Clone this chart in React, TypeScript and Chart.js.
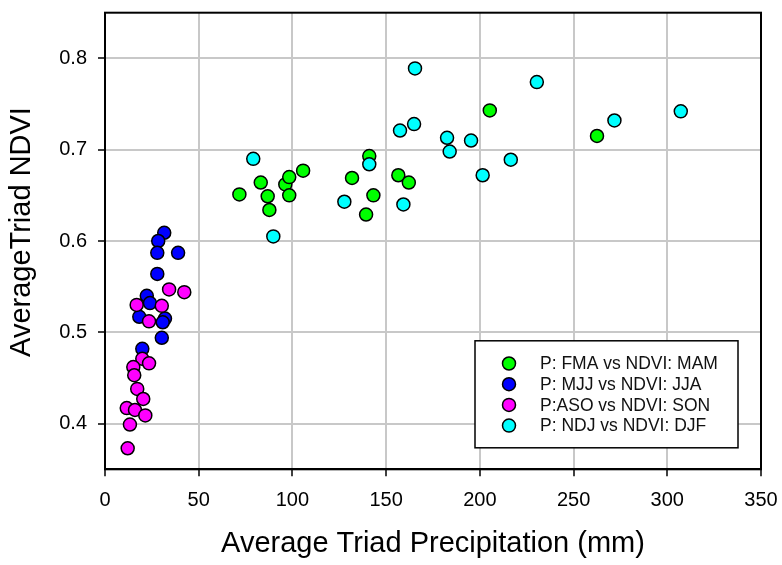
import React, { useEffect, useRef } from "react";
import { Chart, registerables } from "chart.js";

Chart.register(...registerables);

const seriesLabels = [
  "P: FMA vs NDVI: MAM",
  "P: MJJ vs NDVI: JJA",
  "P:ASO vs NDVI: SON",
  "P: NDJ vs NDVI: DJF",
];
const seriesColors = ["#00ff00", "#0000ff", "#ff00ff", "#00ffff"];

// P: FMA vs NDVI: MAM
const fmaX = [71.7, 83.1, 86.8, 87.7, 96.2, 98.3, 98.3, 105.7, 141.0, 131.8, 143.2, 139.3, 156.5, 162.1, 205.3, 262.5];
const fmaY = [0.651, 0.664, 0.649, 0.634, 0.662, 0.670, 0.650, 0.677, 0.693, 0.669, 0.650, 0.629, 0.672, 0.664, 0.743, 0.715];

// P: MJJ vs NDVI: JJA
const mjjX = [31.6, 28.4, 27.9, 39.0, 27.9, 22.3, 24.0, 18.3, 32.0, 30.8, 30.3, 19.9];
const mjjY = [0.609, 0.600, 0.587, 0.587, 0.564, 0.540, 0.532, 0.517, 0.515, 0.511, 0.494, 0.482];

// P:ASO vs NDVI: SON
const asoX = [34.2, 42.3, 16.9, 30.3, 23.5, 19.9, 23.5, 15.1, 15.6, 17.2, 20.4, 11.6, 16.0, 21.5, 13.3, 12.1];
const asoY = [0.547, 0.544, 0.530, 0.529, 0.512, 0.471, 0.466, 0.462, 0.453, 0.438, 0.427, 0.417, 0.415, 0.409, 0.399, 0.373];

// P: NDJ vs NDVI: DJF
const ndjX = [79.1, 89.8, 141.0, 127.7, 159.2, 157.4, 165.4, 164.9, 182.5, 183.9, 195.3, 201.5, 216.5, 230.4, 271.8, 307.2];
const ndjY = [0.690, 0.605, 0.684, 0.643, 0.640, 0.721, 0.789, 0.728, 0.713, 0.698, 0.710, 0.672, 0.689, 0.774, 0.732, 0.742];

const xMin = 0;
const xMax = 350;
const xTickValues = [0, 50, 100, 150, 200, 250, 300, 350];
const yMin = 0.35;
const yMax = 0.85;
const yTickValues = [0.4, 0.5, 0.6, 0.7, 0.8];

const xTitle = "Average Triad Precipitation (mm)";
const yTitle = "AverageTriad NDVI";

const FONT = "'Liberation Sans', Arial, sans-serif";

function toPoints(xs: number[], ys: number[]) {
  return xs.map((x, i) => ({ x, y: ys[i] }));
}

const framePlugin = {
  id: "frame",
  beforeDatasetsDraw(chart: any) {
    const { ctx, chartArea } = chart;
    ctx.save();
    ctx.strokeStyle = "#000";
    ctx.lineWidth = 2;
    ctx.strokeRect(chartArea.left, chartArea.top, chartArea.right - chartArea.left, chartArea.bottom - chartArea.top);
    ctx.restore();
  },
};

const yTitlePlugin = {
  id: "yTitle",
  afterDraw(chart: any) {
    const { ctx, chartArea } = chart;
    ctx.save();
    ctx.translate(22, (chartArea.top + chartArea.bottom) / 2 - 9);
    ctx.rotate(-Math.PI / 2);
    ctx.font = `29px ${FONT}`;
    ctx.fillStyle = "#000";
    ctx.textAlign = "center";
    ctx.textBaseline = "middle";
    ctx.fillText(yTitle, 0, 0);
    ctx.restore();
  },
};

const legendPlugin = {
  id: "boxLegend",
  afterDatasetsDraw(chart: any) {
    const { ctx, chartArea } = chart;
    const right = chartArea.right - 23;
    const bottom = chartArea.bottom - 21.5;
    const w = 263;
    const h = 107;
    const left = right - w;
    const top = bottom - h;
    ctx.save();
    ctx.fillStyle = "#fff";
    ctx.fillRect(left, top, w, h);
    ctx.strokeStyle = "#000";
    ctx.lineWidth = 1.5;
    ctx.strokeRect(left, top, w, h);
    ctx.font = `17.5px ${FONT}`;
    ctx.textBaseline = "middle";
    ctx.textAlign = "left";
    chart.data.datasets.forEach((ds: any, i: number) => {
      const cy = top + 22.7 + i * 20.7;
      ctx.beginPath();
      ctx.arc(left + 34, cy, 6.5, 0, Math.PI * 2);
      ctx.fillStyle = ds.backgroundColor;
      ctx.fill();
      ctx.lineWidth = 1.5;
      ctx.strokeStyle = "#000";
      ctx.stroke();
      ctx.fillStyle = "#111";
      ctx.fillText(ds.label, left + 65, cy + 1);
    });
    ctx.restore();
  },
};

export default function App() {
  const canvasRef = useRef<HTMLCanvasElement | null>(null);

  useEffect(() => {
    if (!canvasRef.current) return;
    const xs = [fmaX, mjjX, asoX, ndjX];
    const ys = [fmaY, mjjY, asoY, ndjY];
    const chart = new Chart(canvasRef.current, {
      type: "scatter",
      data: {
        datasets: seriesLabels.map((label, i) => ({
          label,
          data: toPoints(xs[i], ys[i]),
          backgroundColor: seriesColors[i],
          borderColor: "#000",
          borderWidth: 1.5,
          pointRadius: 6.5,
          pointHoverRadius: 6.5,
          order: 4 - i,
        })),
      },
      options: {
        responsive: false,
        animation: false,
        events: [],
        layout: { padding: { top: 12.7, right: 21, left: 0, bottom: 0 } },
        plugins: {
          legend: { display: false },
          tooltip: { enabled: false },
        },
        scales: {
          x: {
            type: "linear",
            min: xMin,
            max: xMax,
            afterFit: (scale: any) => {
              scale.height = 95.7;
              scale.paddingLeft = 0;
              scale.paddingRight = 0;
            },
            afterBuildTicks: (scale: any) => {
              scale.ticks = xTickValues.map((v) => ({ value: v }));
            },
            ticks: {
              color: "#000",
              font: { family: FONT, size: 20 },
              padding: 12,
              maxRotation: 0,
              autoSkip: false,
              callback: (v: any) => String(v),
            },
            grid: {
              color: "#c8c8c8",
              lineWidth: 2,
              tickColor: "#000",
              tickLength: 7,
              tickWidth: 1.5,
            },
            border: { color: "#000", width: 2 },
            title: {
              display: true,
              text: xTitle,
              color: "#000",
              font: { family: FONT, size: 29 },
              padding: { top: 0, bottom: 4 },
            },
          },
          y: {
            type: "linear",
            min: yMin,
            max: yMax,
            afterFit: (scale: any) => {
              scale.width = 105;
              scale.paddingTop = 0;
              scale.paddingBottom = 0;
            },
            afterBuildTicks: (scale: any) => {
              scale.ticks = yTickValues.map((v) => ({ value: v }));
            },
            ticks: {
              color: "#000",
              font: { family: FONT, size: 20 },
              padding: 11,
              autoSkip: false,
              callback: (v: any) => Number(v).toFixed(1),
            },
            grid: {
              color: "#c8c8c8",
              lineWidth: 2,
              tickColor: "#000",
              tickLength: 7,
              tickWidth: 1.5,
            },
            border: { color: "#000", width: 2 },
            title: { display: false },
          },
        },
      },
      plugins: [framePlugin, legendPlugin, yTitlePlugin],
    } as any);
    return () => chart.destroy();
  }, []);

  return (
    <div style={{ position: "absolute", left: 0, top: 0, width: 782, height: 565, background: "#fff" }}>
      <canvas ref={canvasRef} width={782} height={565} />
    </div>
  );
}
